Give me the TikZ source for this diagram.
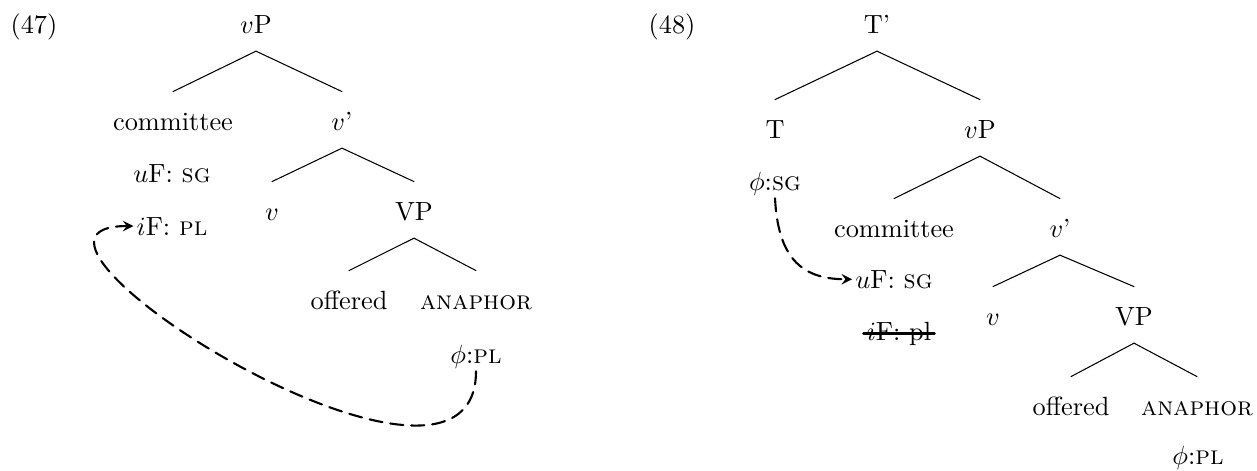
\documentclass[tikz,border=0pt]{standalone}
\usepackage{amssymb}
\usepackage{amsmath}
\usepackage{tikz}
\usetikzlibrary{arrows}
\tikzstyle{every node}=[font=\normalsize]

\begin{document}
\begin{tikzpicture}[line cap=round,line join=round,>=stealth,x=0.38pt,y=0.38pt,
  tn/.style={anchor=base,text height=7.7pt,text depth=0pt,inner xsep=1pt,inner ysep=6.7pt},
  ft/.style={anchor=base,inner sep=1pt},
  exlabel/.style={anchor=base},
  branch/.style={line width=0.4pt},
  agree/.style={->,line width=0.8pt,dash pattern=on 5pt off 3pt}]
\useasboundingbox (0,0) rectangle (1257,470);
\node[exlabel] (lab47) at (34,437) {(47)};
\node[tn] (vpA) at (256,437) {$v$P};
\node[tn] (comA) at (173,340) {committee};
\node[tn] (vbarA) at (342,340) {$v$'};
\node[ft] (ufA) at (172,288) {$u$F: \textsc{sg}};
\node[tn] (vA) at (272,250) {$v$};
\node[tn] (VPA) at (414,250) {VP};
\node[ft] (ifA) at (172,235) {$i$F: \textsc{pl}};
\node[tn] (offA) at (349,161) {offered};
\node[tn] (anaA) at (476,161) {\textsc{anaphor}};
\node[ft] (phiA) at (476,107) {$\phi$:\textsc{pl}};
\draw[branch] (vpA.south) -- (comA.north);
\draw[branch] (vpA.south) -- (vbarA.north);
\draw[branch] (vbarA.south) -- (vA.north);
\draw[branch] (vbarA.south) -- (VPA.north);
\draw[branch] (VPA.south) -- (offA.north);
\draw[branch] (VPA.south) -- (anaA.north);
\draw[agree] (phiA.south) .. controls +(0,-180) and +(-172,0) .. (ifA.west);
\node[exlabel] (lab48) at (672,437) {(48)};
\node[tn] (tbarB) at (877,437) {T'};
\node[tn] (tB) at (775,332) {T};
\node[tn] (vpB) at (980,332) {$v$P};
\node[ft] (phiB) at (775,280) {$\phi$:\textsc{sg}};
\node[tn] (comB) at (894,233) {committee};
\node[tn] (vbarB) at (1060,233) {$v$'};
\node[ft] (ufB) at (894,182) {$u$F: \textsc{sg}};
\node[tn] (vB) at (993,145) {$v$};
\node[tn] (VPB) at (1134,145) {VP};
\node[ft] (ifB) at (899,130) {$i$F: pl};
\node[tn] (offB) at (1071,55) {offered};
\node[tn] (anaB) at (1197,55) {\textsc{anaphor}};
\node[ft] (phiC) at (1198,6) {$\phi$:\textsc{pl}};
\draw[branch] (tbarB.south) -- (tB.north);
\draw[branch] (tbarB.south) -- (vpB.north);
\draw[branch] (vpB.south) -- (comB.north);
\draw[branch] (vpB.south) -- (vbarB.north);
\draw[branch] (vbarB.south) -- (vB.north);
\draw[branch] (vbarB.south) -- (VPB.north);
\draw[branch] (VPB.south) -- (offB.north);
\draw[branch] (VPB.south) -- (anaB.north);
\draw[line width=1.2pt] ([yshift=2.6pt]ifB.base west) -- ([yshift=2.6pt]ifB.base east);
\draw[agree] (phiB.south) .. controls +(3,-57) and +(-53,0) .. (ufB.west);
\end{tikzpicture}
\end{document}
